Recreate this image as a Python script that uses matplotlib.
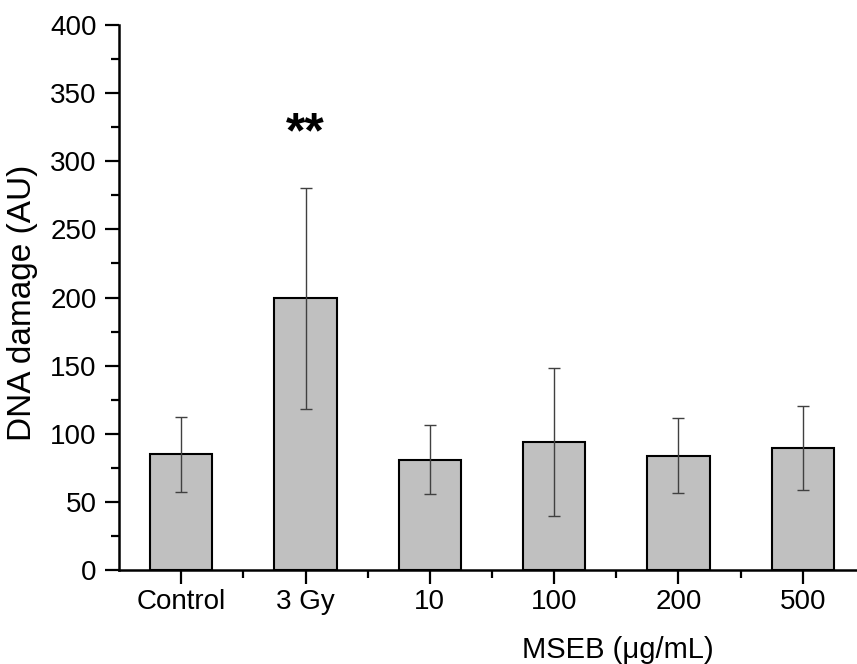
import matplotlib.pyplot as plt
import numpy as np

plt.rcParams['font.family'] = ['Liberation Sans', 'DejaVu Sans']

# values
groups = ['Control', '3 Gy', '10', '100', '200', '500']
damage = [85, 199.5, 81, 94, 84, 89.5]
damage_err = [27.5, 81, 25.5, 54, 27.5, 31]

fig = plt.figure(figsize=(8.57, 6.64), dpi=100)
ax = fig.add_axes([119 / 857, (664 - 570) / 664, 746 / 857, 545 / 664])

x = np.arange(len(groups))
ax.bar(x, damage, width=0.5, color='#c0c0c0', edgecolor='black', linewidth=1.5,
       zorder=2)
ax.errorbar(x, damage, yerr=damage_err, fmt='none', ecolor='#404040',
            elinewidth=1, capsize=4, capthick=1, zorder=3)

# significance marker
ax.text(x[1], 320, '**', ha='center', va='center', fontsize=36,
        fontweight='bold')

ax.set_xlim(-0.5, 5.5)
ax.set_ylim(0, 400)
ax.set_xticks(x)
ax.set_xticklabels(groups)
ax.set_xticks(x[:-1] + 0.5, minor=True)
ax.set_yticks(np.arange(0, 401, 50))
ax.set_yticks(np.arange(25, 400, 50), minor=True)

for side in ['top', 'right']:
    ax.spines[side].set_visible(False)
for side in ['left', 'bottom']:
    ax.spines[side].set_linewidth(1.8)
ax.spines['bottom'].set_clip_on(False)

ax.tick_params(which='major', length=10, width=1.6, labelsize=20, pad=6)
ax.tick_params(which='minor', length=6, width=1.6)
ax.tick_params(axis='x', which='major', pad=4)

ax.set_ylabel('DNA damage (AU)', fontsize=24)
ax.yaxis.set_label_coords(-0.108, 0.49)
ax.set_xlabel('MSEB (\u03bcg/mL)', fontsize=21)
ax.xaxis.set_label_coords(0.669, -0.122)

fig.savefig('out.png', dpi=100)
